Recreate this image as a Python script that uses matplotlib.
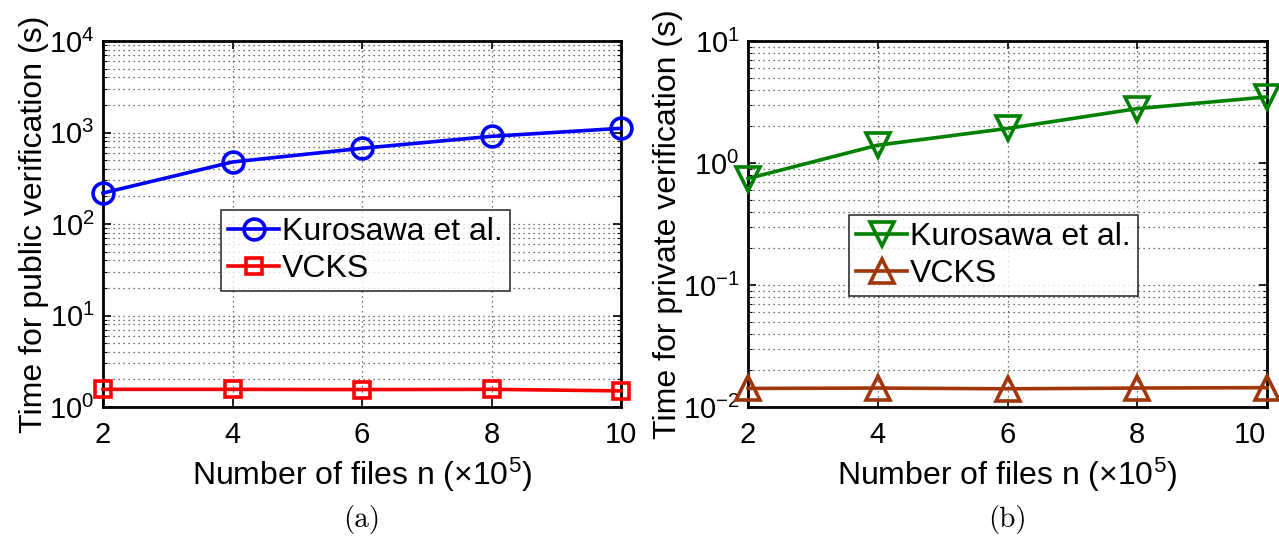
import matplotlib
matplotlib.use("Agg")
import matplotlib.pyplot as plt
from matplotlib.ticker import LogLocator, FixedLocator, NullFormatter
import matplotlib.transforms as mtransforms

plt.rcParams['font.family'] = ['Liberation Sans', 'DejaVu Sans']
plt.rcParams['mathtext.fontset'] = 'custom'
plt.rcParams['mathtext.rm'] = 'Liberation Sans'
plt.rcParams['mathtext.it'] = 'Liberation Sans:italic'
plt.rcParams['mathtext.bf'] = 'Liberation Sans:bold'

n_files = [2, 4, 6, 8, 10]
pub_kurosawa = [218, 476, 672, 908, 1111]
pub_vcks = [1.56, 1.56, 1.55, 1.56, 1.50]
priv_kurosawa = [0.746, 1.40, 1.92, 2.79, 3.48]
priv_vcks = [0.0142, 0.0143, 0.0141, 0.0143, 0.0144]

FS_TICK = 21
FS_LAB = 23
FS_LEG = 23
fig = plt.figure(figsize=(12.79, 5.41), dpi=100)
W, H = 1279, 541
axL = fig.add_axes([103 / W, 1 - 407 / H, (621 - 103) / W, (407 - 41) / H])
axR = fig.add_axes([748 / W, 1 - 407 / H, (1267 - 748) / W, (407 - 41) / H])

def style(ax, ylim):
    ax.set_yscale('log')
    ax.set_xlim(2, 10)
    ax.set_ylim(*ylim)
    ax.xaxis.set_major_locator(FixedLocator(n_files))
    ax.yaxis.set_major_locator(LogLocator(base=10, numticks=10))
    ax.yaxis.set_minor_locator(LogLocator(base=10, subs=range(2, 10), numticks=20))
    ax.yaxis.set_minor_formatter(NullFormatter())
    ax.grid(True, which='major', linestyle=(0, (1, 3)), color='#444444', linewidth=0.9)
    ax.grid(True, which='minor', axis='y', linestyle=(0, (1, 3)), color='#444444', linewidth=0.9)
    ax.tick_params(which='both', direction='in', top=True, right=True, labelsize=FS_TICK)
    ax.tick_params(axis='x', pad=10)
    ax.tick_params(axis='y', pad=6)
    ax.tick_params(which='major', length=6, width=1.2)
    ax.tick_params(which='minor', length=3, width=0.8)
    for s in ax.spines.values():
        s.set_linewidth(2)
    ax.set_xlabel(r'Number of files n ($\times$10$^5$)', fontsize=FS_LAB, labelpad=5)

style(axL, (1, 1e4))
axL.plot(n_files, pub_kurosawa, color='#0000ff', lw=2.6, marker='o', ms=15,
         mfc='none', mew=2.6, label='Kurosawa et al.', clip_on=False, zorder=5)
axL.plot(n_files, pub_vcks, color='#ff0000', lw=2.6, marker='s', ms=12,
         mfc='none', mew=2.6, label='VCKS', clip_on=False, zorder=5)
axL.set_ylabel('Time for public verification (s)', fontsize=FS_LAB, labelpad=0)
legL = axL.legend(loc='upper left', bbox_to_anchor=((221 - 103) / 518, (407 - 210) / 366),
                  fontsize=FS_LEG, frameon=True, fancybox=False, edgecolor='black',
                  handlelength=1.6, handletextpad=0.1, borderpad=0.22, labelspacing=0.22,
                  borderaxespad=0)
legL.get_frame().set_linewidth(1.2)

style(axR, (1e-2, 10))
axR.plot(n_files, priv_kurosawa, color='#008000', lw=2.6, marker='v', ms=17,
         mfc='none', mew=2.6, label='Kurosawa et al.', clip_on=False, zorder=5)
axR.plot(n_files, priv_vcks, color='#a0360a', lw=2.6, marker='^', ms=17,
         mfc='none', mew=2.6, label='VCKS', clip_on=False, zorder=5)
axR.set_ylabel('Time for private verification (s)', fontsize=FS_LAB, labelpad=0)
legR = axR.legend(loc='upper left', bbox_to_anchor=((849 - 748) / 519, (407 - 215) / 366),
                  fontsize=FS_LEG, frameon=True, fancybox=False, edgecolor='black',
                  handlelength=1.6, handletextpad=0.1, borderpad=0.22, labelspacing=0.22,
                  borderaxespad=0)
legR.get_frame().set_linewidth(1.2)

# shift last x tick label of the right panel to stay inside the figure
fig.canvas.draw()
lastlab = axR.get_xticklabels()[-1]
lastlab.set_transform(lastlab.get_transform() +
                      mtransforms.ScaledTranslation(-17 / 100, 0, fig.dpi_scale_trans))

fig.text(362 / W, 1 - 520 / H, '(a)', fontsize=FS_TICK, family='cmr10', ha='center', va='center')
fig.text(1007 / W, 1 - 520 / H, '(b)', fontsize=FS_TICK, family='cmr10', ha='center', va='center')

fig.savefig('out.png', dpi=100)
